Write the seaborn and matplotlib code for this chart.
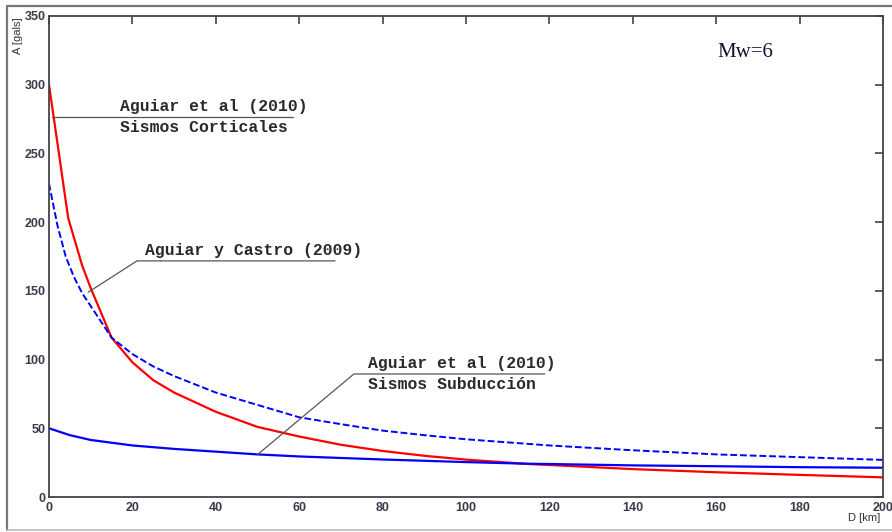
import numpy as np
import pandas as pd
import seaborn as sns
import matplotlib
matplotlib.use("Agg")
import matplotlib.pyplot as plt
from matplotlib.lines import Line2D

# ---- data ----
d_cort = [0, 2, 4.6, 8, 10, 15, 20, 25, 30, 40, 50, 60, 70, 80, 90, 100, 115, 120, 140, 160, 180, 200]
a_cort = [300, 258, 203, 168, 152, 116, 98, 85, 76, 62, 51, 44, 38, 33.5, 30, 27.2, 24, 23.3, 20.3, 18, 16.1, 14.3]

d_castro = [0, 2, 4, 6, 8, 10, 15, 20, 25, 30, 40, 50, 60, 70, 80, 90, 100, 120, 140, 160, 180, 200]
a_castro = [228, 198, 175, 160, 148, 139, 116, 104, 95, 88, 76, 67, 58, 53, 48.3, 45, 42, 37.5, 34, 31, 29, 27]

d_subd = [0, 5, 10, 20, 30, 40, 50, 60, 80, 100, 115, 120, 140, 160, 180, 200]
a_subd = [50, 45, 41.5, 37.5, 35, 33, 31, 29.5, 27.3, 25.4, 24.2, 24, 23, 22.4, 21.7, 21.3]

x_ticks = [0, 20, 40, 60, 80, 100, 120, 140, 160, 180, 200]
y_ticks = [0, 50, 100, 150, 200, 250, 300, 350]

df_cort = pd.DataFrame({"D": d_cort, "A": a_cort})
df_castro = pd.DataFrame({"D": d_castro, "A": a_castro})
df_subd = pd.DataFrame({"D": d_subd, "A": a_subd})

sns.set_style("white")
plt.rcParams["font.family"] = ["Liberation Sans", "DejaVu Sans"]

fig = plt.figure(figsize=(8.92, 5.32), dpi=100)
ax = fig.add_axes([49 / 892, 1 - 497 / 532, (883 - 49) / 892, (497 - 16) / 532])

sns.lineplot(data=df_cort, x="D", y="A", ax=ax, color="#ff0000", linewidth=1.6)
sns.lineplot(data=df_castro, x="D", y="A", ax=ax, color="#0000ff", linewidth=1.4,
             linestyle=(0, (3.5, 1.5)))
sns.lineplot(data=df_subd, x="D", y="A", ax=ax, color="#0000ff", linewidth=1.6)

ax.set_xlim(0, 200)
ax.set_ylim(0, 350)
ax.set_xticks(x_ticks)
ax.set_yticks(y_ticks)
ax.set_xticklabels([str(v) for v in x_ticks])
ax.set_yticklabels([str(v) for v in y_ticks])
ax.tick_params(direction="in", length=6, width=1.2, color="#444444",
               top=True, right=True, labelsize=9, labelcolor="#3a3a4a")
ax.tick_params(axis="y", pad=2.5)
for lab in ax.get_xticklabels() + ax.get_yticklabels():
    lab.set_fontweight("bold")
for s in ax.spines.values():
    s.set_color("#444444")
    s.set_linewidth(1.3)
ax.set_xlabel("")
ax.set_ylabel("")

# axis titles
fig.text(18 / 892, 1 - 36 / 532, "A [gals]", rotation=90, ha="center", va="center",
         fontsize=8, color="#333333")
fig.text(864 / 892, 1 - 518 / 532, "D [km]", ha="center", va="center",
         fontsize=8, color="#333333")

# annotations
mono = ["Liberation Mono", "DejaVu Sans Mono"]
tc = "#2a2a2a"
lc = "#555555"
fs = 11.8

# Corticales
ax.plot([0.7, 58.5], [276.6, 276.6], color=lc, lw=0.9)
ax.text(17, 279, "Aguiar et al (2010)", family=mono, fontsize=fs, fontweight="bold",
        color=tc, ha="left", va="bottom")
ax.text(17, 274, "Sismos Corticales", family=mono, fontsize=fs, fontweight="bold",
        color=tc, ha="left", va="top")

# Castro
ax.plot([9.4, 21.1, 68.6], [149, 171.8, 171.8], color=lc, lw=0.9)
ax.text(23, 174, "Aguiar y Castro (2009)", family=mono, fontsize=fs, fontweight="bold",
        color=tc, ha="left", va="bottom")

# Subduccion
ax.plot([49.9, 73.1, 118.9], [30.6, 89.5, 89.5], color=lc, lw=0.9)
ax.text(76.5, 92, "Aguiar et al (2010)", family=mono, fontsize=fs, fontweight="bold",
        color=tc, ha="left", va="bottom")
ax.text(76.5, 87, "Sismos Subducción", family=mono, fontsize=fs, fontweight="bold",
        color=tc, ha="left", va="top")

# Mw label
ax.text(160.2, 323.5, "Mw=6", family=["Liberation Serif", "DejaVu Serif"], fontsize=15,
        color="#111133", ha="left", va="center")

# outer frame of the figure
fc = "#777777"
fig.add_artist(Line2D([7 / 892, 1], [1 - 6 / 532, 1 - 6 / 532], color=fc, lw=1.6,
                      transform=fig.transFigure))
fig.add_artist(Line2D([7 / 892, 7 / 892], [1 - 6 / 532, 1 - 530 / 532], color=fc, lw=1.6,
                      transform=fig.transFigure))
fig.add_artist(Line2D([7 / 892, 1], [1 - 530 / 532, 1 - 530 / 532], color="#bbbbbb", lw=1.2,
                      transform=fig.transFigure))

fig.savefig("out.png", dpi=100)
